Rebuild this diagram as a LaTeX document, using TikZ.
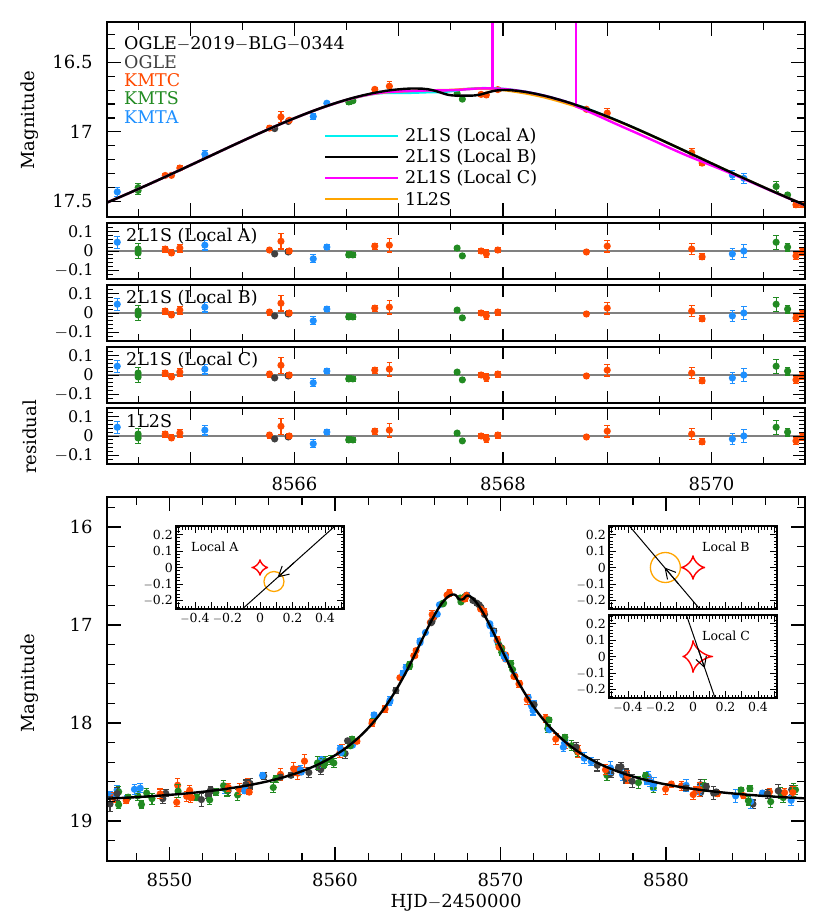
\documentclass[tikz,border=0pt]{standalone}
\usepackage{fontspec}
\setmainfont{DejaVu Serif}
\usetikzlibrary{arrows.meta,calc}
\definecolor{ck}{HTML}{404040}
\definecolor{co}{HTML}{FF4A00}
\definecolor{cg}{HTML}{228B22}
\definecolor{cb}{HTML}{1E90FF}
\definecolor{corg}{HTML}{FFA500}
\definecolor{cmag}{HTML}{FF00FF}
\definecolor{ccy}{HTML}{00F0F0}
\newcommand\dpt[4]{\draw[#4,line width=1.1pt] (#1,#2-#3)--(#1,#2+#3) (#1-2.8,#2-#3)--(#1+2.8,#2-#3) (#1-2.8,#2+#3)--(#1+2.8,#2+#3); \fill[#4] (#1,#2) circle[radius=3.6];}
\def\toplist{8564.30/0.045/cb/0.03, 8564.50/-0.01/cg/0.03, 8564.50/0.01/cg/0.03, 8564.76/0.01/co/0.015, 8564.82/-0.01/co/0.015, 8564.90/0.015/co/0.02, 8565.14/0.03/cb/0.025, 8565.76/0.005/co/0.015, 8565.81/-0.015/ck/0.01, 8565.87/0.05/co/0.04, 8565.94/-0.005/ck/0.01, 8565.95/0.0/co/0.015, 8566.18/-0.04/cb/0.02, 8566.31/0.02/cb/0.012, 8566.52/-0.02/cg/0.015, 8566.56/-0.02/cg/0.012, 8566.77/0.025/co/0.015, 8566.91/0.03/co/0.035, 8567.56/0.015/cg/0.01, 8567.61/-0.025/cg/0.01, 8567.79/0.0/co/0.012, 8567.84/-0.015/co/0.02, 8567.95/0.005/co/0.015, 8568.80/-0.005/co/0.015, 8569.00/0.025/co/0.03, 8569.81/0.01/co/0.03, 8569.91/-0.03/co/0.015, 8570.20/-0.015/cb/0.03, 8570.31/0.0/cb/0.035, 8570.62/0.045/cg/0.035, 8570.73/0.02/cg/0.02, 8570.81/-0.025/co/0.02, 8570.87/-0.005/co/0.02}
\newcommand\drawinset[3]{% cx, cy, xlabels (1/0)
  \draw[line width=1.3pt] (#1-84,#2-41.5) rectangle (#1+84,#2+41.5);
  \foreach \i in {-25,...,25}{
    \pgfmathsetmacro\xx{#1+0.02*\i*162.5}
    \pgfmathsetmacro\L{ifthenelse(mod(\i,5)==0,7,3.5)}
    \draw[line width=0.8pt] (\xx,#2+41.5)--(\xx,#2+41.5-\L) (\xx,#2-41.5)--(\xx,#2-41.5+\L);}
  \foreach \i in {-12,...,12}{
    \pgfmathsetmacro\yy{#2-0.02*\i*165}
    \pgfmathsetmacro\L{ifthenelse(mod(\i,5)==0,7,3.5)}
    \draw[line width=0.8pt] (#1-84,\yy)--(#1-84+\L,\yy) (#1+84,\yy)--(#1+84-\L,\yy);}
  \foreach \v/\s in {0.2/0.2,0.1/0.1,0/0,-0.1/$-$0.1,-0.2/$-$0.2}
    \node[ilab,anchor=east] at (#1-86,#2-\v*165) {\s};
  \ifnum#3=1
  \foreach \v/\s in {-0.4/$-$0.4,-0.2/$-$0.2,0/0,0.2/0.2,0.4/0.4}
    \node[ilab,anchor=north] at (#1+\v*162.5,#2+45) {\s};
  \fi}
\begin{document}
\begin{tikzpicture}[x=1pt,y=-1pt,
  declare function={
    sq(\a)=\a*\a;
    dmo(\t)=2.03/(1+sq(sq((\t-8567.52)/4))/(sq((\t-8567.52)/4)+0.03))+0.15/(1+sq((\t-8567.52)/8));
    mzero(\t)=18.86-dmo(\t);
    bump(\t,\c,\w)=1/(1+sq(min(sq((\t-\c)/\w),100)));
    mbl(\t)=mzero(\t)+0.06*bump(\t,8567.62,0.25);
    mcy(\t)=mzero(\t)+0.035*bump(\t,8567.25,0.35);
    mmg(\t)=mzero(\t)+0.022*bump(\t,8567.3,0.4)+0.03*bump(\t,8569.4,0.6)*(\t>8568.7);
    mor(\t)=mzero(\t)+0.02*bump(\t,8567.25,0.4)+0.012*bump(\t,8568.4,0.5);
    TX(\t)=294.5+(\t-8566)*104.25;
    TY(\m)=22+(\m-16.21)*139;
    BX(\t)=169.5+(\t-8550)*16.55;
    BY(\m)=527+(\m-16)*98;},
  tlab/.style={font=\fontsize{18}{20}\selectfont},
  rlab/.style={font=\fontsize{16}{18}\selectfont},
  lg/.style={font=\fontsize{17.5}{20}\selectfont,anchor=west,inner sep=0pt},
  ilab/.style={font=\fontsize{12.5}{14}\selectfont,inner sep=1pt},
  frame/.style={line width=1.6pt},
  crv/.style={line width=2.4pt}]
\useasboundingbox[fill=white] (0,0) rectangle (830,917);
% ---------- top panel ----------
\begin{scope}
\clip (107,22) rectangle (805,217);
\foreach \ti/\ri/\cl/\ei in \toplist{
  \pgfmathsetmacro\px{TX(\ti)}\pgfmathsetmacro\py{TY(mbl(\ti)-\ri)}\pgfmathsetmacro\pe{\ei*139}
  \dpt{\px}{\py}{\pe}{\cl}}
\draw[ccy,crv] plot[domain=8564.206:8570.9,samples=300] ({TX(\x)},{TY(mcy(\x))});
\draw[corg,crv] plot[domain=8564.206:8570.9,samples=300] ({TX(\x)},{TY(mor(\x))});
\draw[cmag,crv] plot[domain=8564.206:8570.9,samples=300] ({TX(\x)},{TY(mmg(\x))});
\draw[cmag,crv] ({TX(8567.9)},{TY(mmg(8567.9))})--({TX(8567.9)},20) ({TX(8568.7)},{TY(mmg(8568.7))})--({TX(8568.7)},20);
\draw[black,crv] plot[domain=8564.206:8570.9,samples=300] ({TX(\x)},{TY(mbl(\x))});
\end{scope}
\draw[frame] (107,22) rectangle (805,217);
\foreach \i in {0,...,12}{
  \pgfmathsetmacro\xx{TX(8564.5+0.5*\i)}\pgfmathsetmacro\L{ifthenelse(mod(\i,2)==1,14,8)}
  \draw[line width=1.2pt] (\xx,22)--(\xx,22+\L) (\xx,217)--(\xx,217-\L);}
\foreach \i in {0,...,12}{
  \pgfmathsetmacro\yy{TY(16.3+0.1*\i)}\pgfmathsetmacro\L{ifthenelse(mod(\i-2,5)==0,14,8)}
  \draw[line width=1.2pt] (107,\yy)--(107+\L,\yy) (805,\yy)--(805-\L,\yy);}
\foreach \m in {16.5,17,17.5} \node[tlab,anchor=east] at (96,{TY(\m)}) {\m};
\node[tlab,rotate=90] at (30,120) {Magnitude};
\node[lg] at (124,44) {OGLE$-$2019$-$BLG$-$0344};
\node[lg,ck] at (124,62) {OGLE};
\node[lg,co] at (124,80) {KMTC};
\node[lg,cg] at (124,98) {KMTS};
\node[lg,cb] at (124,117) {KMTA};
\foreach \cl/\yy/\s in {ccy/136/2L1S (Local A),black/157/2L1S (Local B),cmag/178/2L1S (Local C),corg/199/1L2S}{
  \draw[\cl,crv] (325,\yy)--(398,\yy); \node[lg] at (405,\yy) {\s};}
% ---------- residual panels ----------
\foreach \tp/\bt/\lab in {223/279/2L1S (Local A),285/341/2L1S (Local B),347/403/2L1S (Local C),408/464/1L2S}{
  \pgfmathsetmacro\cc{(\tp+\bt)/2}
  \draw[gray,line width=1.2pt] (107,\cc)--(805,\cc);
  \begin{scope}
  \clip (107,\tp) rectangle (805,\bt);
  \foreach \ti/\ri/\cl/\ei in \toplist{
    \pgfmathsetmacro\px{TX(\ti)}\pgfmathsetmacro\py{\cc-\ri*195}\pgfmathsetmacro\pe{\ei*195}
    \dpt{\px}{\py}{\pe}{\cl}}
  \end{scope}
  \draw[frame] (107,\tp) rectangle (805,\bt);
  \foreach \i in {0,...,12}{
    \pgfmathsetmacro\xx{TX(8564.5+0.5*\i)}\pgfmathsetmacro\L{ifthenelse(mod(\i,2)==1,12,7)}
    \draw[line width=1.2pt] (\xx,\tp)--(\xx,\tp+\L) (\xx,\bt)--(\xx,\bt-\L);}
  \foreach \i in {-7,...,7}{
    \pgfmathsetmacro\yy{\cc-0.02*\i*195}\pgfmathsetmacro\L{ifthenelse(mod(\i,5)==0,12,6)}
    \draw[line width=1pt] (107,\yy)--(107+\L,\yy) (805,\yy)--(805-\L,\yy);}
  \node[rlab,anchor=east] at (97,\cc-19.5) {0.1};
  \node[rlab,anchor=east] at (97,\cc) {0};
  \node[rlab,anchor=east] at (97,\cc+19.5) {$-$0.1};
  \node[lg] at (126,\tp+13) {\lab};
}
\node[tlab,rotate=90] at (30,437) {residual};
\foreach \d in {8566,8568,8570} \node[tlab] at ({TX(\d)},484) {\d};
% ---------- bottom panel ----------
\begin{scope}
\clip (107,497) rectangle (805,861);
\pgfmathsetseed{11}
\foreach \i in {1,...,200}{
  \pgfmathsetmacro\ti{8546.4+41.8*rnd}
  \pgfmathsetmacro\mm{mbl(\ti)}
  \pgfmathsetmacro\nn{(0.06*rand+0.05*rand)*(0.2+0.8*(\mm-16.6)/2.2)}
  \pgfmathsetmacro\ei{(0.025+0.05*rnd)*(0.3+0.7*(\mm-16.6)/2.2)}
  \pgfmathtruncatemacro\ci{mod(\i,4)}
  \ifcase\ci \def\cl{ck}\or\def\cl{co}\or\def\cl{cg}\else\def\cl{cb}\fi
  \pgfmathsetmacro\px{BX(\ti)}\pgfmathsetmacro\py{BY(\mm+\nn)}\pgfmathsetmacro\pe{\ei*98}
  \dpt{\px}{\py}{\pe}{\cl}}
\foreach \ti/\ri/\cl/\ei in \toplist{
  \pgfmathsetmacro\px{BX(\ti)}\pgfmathsetmacro\py{BY(mbl(\ti)-\ri)}\pgfmathsetmacro\pe{\ei*98}
  \dpt{\px}{\py}{\pe}{\cl}}
\draw[black,crv] plot[domain=8546.22:8588.4,samples=500] ({BX(\x)},{BY(mbl(\x))});
\end{scope}
\draw[frame] (107,497) rectangle (805,861);
\foreach \i in {0,...,20}{
  \pgfmathsetmacro\xx{BX(8548+2*\i)}\pgfmathsetmacro\L{ifthenelse(mod(\i,5)==1,14,8)}
  \draw[line width=1.2pt] (\xx,497)--(\xx,497+\L) (\xx,861)--(\xx,861-\L);}
\foreach \i in {0,...,18}{
  \pgfmathsetmacro\yy{BY(15.8+0.2*\i)}\pgfmathsetmacro\L{ifthenelse(mod(\i,5)==1,14,8)}
  \draw[line width=1.2pt] (107,\yy)--(107+\L,\yy) (805,\yy)--(805-\L,\yy);}
\foreach \m in {16,17,18,19} \node[tlab,anchor=east] at (96,{BY(\m)}) {\m};
\foreach \d in {8550,8560,8570,8580} \node[tlab] at ({BX(\d)},880) {\d};
\node[tlab,rotate=90] at (30,683) {Magnitude};
\node[tlab] at (456,903) {HJD$-$2450000};
% ---------- insets ----------
\fill[white] (176,526) rectangle (344,609);
\fill[white] (609,526) rectangle (777,698);
% Local A
\drawinset{260}{567.5}{1}
\node[ilab,anchor=west] at (190,547) {Local A};
\draw[red,line width=1.4pt] plot[domain=0:360,samples=80] ({260+8*cos(\x)*cos(\x)*cos(\x)},{567.5-8*sin(\x)*sin(\x)*sin(\x)});
\draw[corg,line width=1.3pt] ({260+0.086*162.5},{567.5+0.085*165}) circle[radius=10];
\coordinate (a1) at ({260-0.107*162.5},{567.5+0.25*165});
\coordinate (a2) at ({260+0.46*162.5},{567.5-0.25*165});
\draw[line width=1pt] (a1)--(a2);
\draw[line width=1pt,-{Straight Barb[length=10pt,width=11pt]}] ($(a1)!0.56!(a2)$) -- ($(a1)!0.38!(a2)$);
% Local B
\drawinset{693}{567.5}{0}
\node[ilab,anchor=west] at (701,547) {Local B};
\draw[red,line width=1.4pt] plot[domain=0:360,samples=80] ({693+12*cos(\x)*cos(\x)*cos(\x)},{567.5-12*sin(\x)*sin(\x)*sin(\x)});
\draw[corg,line width=1.3pt] ({693-0.17*162.5},567.5) circle[radius=15];
\coordinate (b1) at ({693-0.39*162.5},{567.5-0.25*165});
\coordinate (b2) at ({693+0.04*162.5},{567.5+0.25*165});
\draw[line width=1pt] (b1)--(b2);
\draw[line width=1pt,-{Straight Barb[length=10pt,width=11pt]}] ($(b1)!0.7!(b2)$) -- ($(b1)!0.5!(b2)$);
% Local C
\drawinset{693}{656.5}{1}
\node[ilab,anchor=west] at (701,636) {Local C};
\draw[red,line width=1.4pt] plot[domain=-90:90,samples=40] ({693+19.5*cos(\x)*cos(\x)*cos(\x)},{656.5-16*sin(\x)*sin(\x)*sin(\x)});
\draw[red,line width=1.4pt] plot[domain=90:270,samples=40] ({693+10*cos(\x)*cos(\x)*cos(\x)},{656.5-16*sin(\x)*sin(\x)*sin(\x)});
\coordinate (c1) at ({693-0.04*162.5},{656.5-0.25*165});
\coordinate (c2) at ({693+0.135*162.5},{656.5+0.25*165});
\draw[line width=1pt] (c1)--(c2);
\draw[line width=1pt,-{Straight Barb[length=10pt,width=11pt]}] ($(c1)!0.4!(c2)$) -- ($(c1)!0.64!(c2)$);
\end{tikzpicture}
\end{document}
